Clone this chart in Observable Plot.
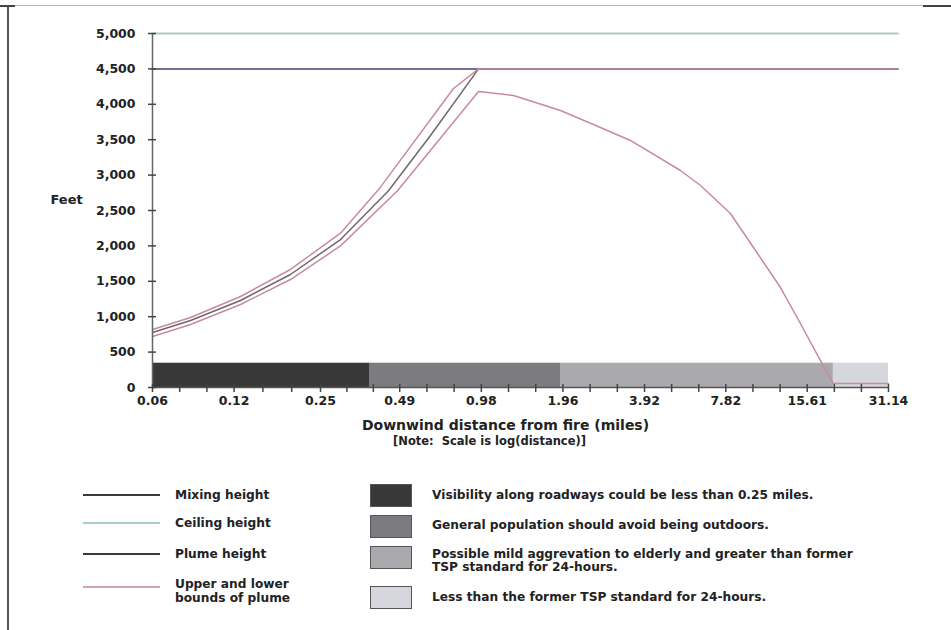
<!DOCTYPE html>
<html><head><meta charset="utf-8">
<script src="https://cdn.jsdelivr.net/npm/d3@7"></script>
<script src="https://cdn.jsdelivr.net/npm/@observablehq/plot@0.6"></script>
<style>
body{margin:0;background:#fff;}
#wrap{position:relative;width:951px;height:630px;overflow:hidden;font-family:"DejaVu Sans",sans-serif;font-weight:bold;color:#222;}
#chart{position:absolute;left:0;top:0;}
.fl{position:absolute;left:7px;top:5px;width:2px;height:625px;background:#555;}
.ft{position:absolute;left:0;top:5px;width:951px;height:1px;background:#b5b5b5;}
.ftl{position:absolute;left:0;top:5px;width:15px;height:2px;background:#444;}
.ftr{position:absolute;left:923px;top:5px;width:28px;height:2px;background:#444;}
.lline{position:absolute;left:83px;width:77px;height:2px;}
.ltext{position:absolute;left:175px;font-size:12.2px;line-height:14px;}
.sw{position:absolute;left:370px;width:40px;height:21px;border:1px solid #555;}
.stext{position:absolute;left:432px;font-size:12.2px;line-height:14px;white-space:nowrap;}
</style></head>
<body><div id="wrap">
<div class="fl"></div><div class="ft"></div><div class="ftl"></div><div class="ftr"></div>
<div id="chart"></div>
<div id="legend"></div>
</div>
<script>
// ---- data ----
const yTicks = [0, 500, 1000, 1500, 2000, 2500, 3000, 3500, 4000, 4500, 5000];
const xTickValues = [0.06, 0.12, 0.25, 0.49, 0.98, 1.96, 3.92, 7.82, 15.61, 31.14];
const xTickLabels = ["0.06", "0.12", "0.25", "0.49", "0.98", "1.96", "3.92", "7.82", "15.61", "31.14"];

const mixingHeight = 4500;
const ceilingHeight = 5000;
const refLineDist = [0.06, 33.7];

const upperDist = [0.06, 0.0829, 0.1267, 0.1937, 0.2963, 0.4161, 0.7735, 0.957, 33.7];
const upperFeet = [819, 989, 1285, 1667, 2180, 2830, 4223, 4500, 4500];

const plumeDist = [0.06, 0.0829, 0.1267, 0.1937, 0.2963, 0.4454, 0.6363, 0.957, 33.7];
const plumeFeet = [777, 946, 1229, 1596, 2090, 2780, 3560, 4500, 4500];

const lowerDist = [0.06, 0.0829, 0.1267, 0.1937, 0.2963, 0.4808, 0.957, 1.288, 1.92, 2.696, 3.478, 5.32, 6.31, 8.13, 9.89, 12.44, 14.74, 17.47, 19.5, 31.14];
const lowerFeet = [720, 890, 1172, 1525, 2000, 2780, 4181, 4124, 3912, 3672, 3489, 3065, 2853, 2458, 1977, 1412, 904, 381, 56, 56];

const bandStart = [0.06, 0.379, 1.93, 19.5];
const bandEnd = [0.379, 1.93, 19.5, 31.14];
const bandTop = 343;
const bandColors = ["#383838", "#7b7b80", "#a9a9ae", "#d6d6df"];
const bandLabels = [
  ["Visibility along roadways could be less than 0.25 miles."],
  ["General population should avoid being outdoors."],
  ["Possible mild aggrevation to elderly and greater than former", "TSP standard for 24-hours."],
  ["Less than the former TSP standard for 24-hours."]
];

const lineLabels = [["Mixing height"], ["Ceiling height"], ["Plume height"], ["Upper and lower", "bounds of plume"]];
const lineColors = ["#3a3a3a", "#a9cfc0", "#3a3a3a", "#d2a4b2"];
const mixColor = "#6f7393", ceilColor = "#a9cdbd", boundColor = "#c98a9c", plumeColor = "#6e6670";

// ---- tables ----
const zip = (xs, ys) => xs.map((x, i) => ({d: x, f: ys[i]}));
const bands = bandStart.map((s, i) => ({start: s, end: bandEnd[i], top: bandTop, color: bandColors[i]}));
const minorTicks = d3.pairs(xTickValues).flatMap(([a, b]) => [a * Math.pow(b / a, 1 / 3), a * Math.pow(b / a, 2 / 3)]);
const xTicks = xTickValues.map((v, i) => ({v, label: xTickLabels[i]}));

const chart = Plot.plot({
  width: 951, height: 455,
  marginLeft: 152, marginRight: 63, marginTop: 33, marginBottom: 68,
  x: {type: "log", domain: [0.06, 31.14]},
  y: {domain: [0, 5000]},
  color: {type: "identity"},
  style: {fontFamily: "DejaVu Sans", fontWeight: "bold", fontSize: "12.5px", color: "#222", background: "transparent"},
  marks: [
    Plot.rect(bands, {x1: "start", x2: "end", y1: () => 0, y2: "top", fill: "color"}),
    Plot.line(zip(refLineDist, refLineDist.map(() => ceilingHeight)), {x: "d", y: "f", stroke: ceilColor, strokeWidth: 2}),
    Plot.line(zip(refLineDist, refLineDist.map(() => mixingHeight)), {x: "d", y: "f", stroke: mixColor, strokeWidth: 2}),
    Plot.line(zip(lowerDist, lowerFeet), {x: "d", y: "f", stroke: boundColor, strokeWidth: 1.5}),
    Plot.line(zip(plumeDist, plumeFeet), {x: "d", y: "f", stroke: plumeColor, strokeWidth: 1.5}),
    Plot.line(zip(upperDist, upperFeet), {x: "d", y: "f", stroke: boundColor, strokeWidth: 1.5}),
    Plot.ruleX([0.06], {y1: 0, y2: 5000, stroke: "#666", strokeWidth: 1.5}),
    Plot.ruleY([0], {x1: 0.06, x2: 31.14, stroke: "#555", strokeWidth: 1.5}),
    Plot.axisY({ticks: yTicks, tickFormat: d3.format(","), tickSize: 8, dx: 4, tickPadding: 13, label: null, stroke: "#444", strokeWidth: 1.5}),
    Plot.axisX({ticks: minorTicks.concat(xTickValues), tickFormat: () => "", tickSize: 8, dy: -3, label: null, stroke: "#444", strokeWidth: 1.5}),
    Plot.text(xTicks, {x: "v", text: "label", frameAnchor: "bottom", dy: 17, fill: "#222"}),
    Plot.text(["Feet"], {frameAnchor: "left", dx: -102, dy: -11, fontSize: 13}),
    Plot.text(["Downwind distance from fire (miles)"], {frameAnchor: "bottom", dx: -15, dy: 42, fontSize: 14}),
    Plot.text(["[Note:  Scale is log(distance)]"], {frameAnchor: "bottom", dx: -31, dy: 57, fontSize: 11.5})
  ]
});
document.getElementById("chart").appendChild(chart);

// ---- legend (HTML below the SVG) ----
const leg = document.getElementById("legend");
const lineTops = [495, 523, 554, 587];
const lineTextTops = [488, 516, 547, 577];
lineLabels.forEach((t, i) => {
  leg.insertAdjacentHTML("beforeend",
    `<div class="lline" style="top:${lineTops[i] - 1}px;background:${lineColors[i]}"></div>` +
    t.map((s, j) => `<div class="ltext" style="top:${lineTextTops[i] + 14 * j}px">${s}</div>`).join(""));
});
const swTops = [484, 515, 546, 586];
const swTextTops = [488, 518, 547, 590];
bandLabels.forEach((t, i) => {
  leg.insertAdjacentHTML("beforeend",
    `<div class="sw" style="top:${swTops[i]}px;background:${bandColors[i]}"></div>` +
    t.map((s, j) => `<div class="stext" style="top:${swTextTops[i] + 13 * j}px">${s}</div>`).join(""));
});
</script>
</body></html>
